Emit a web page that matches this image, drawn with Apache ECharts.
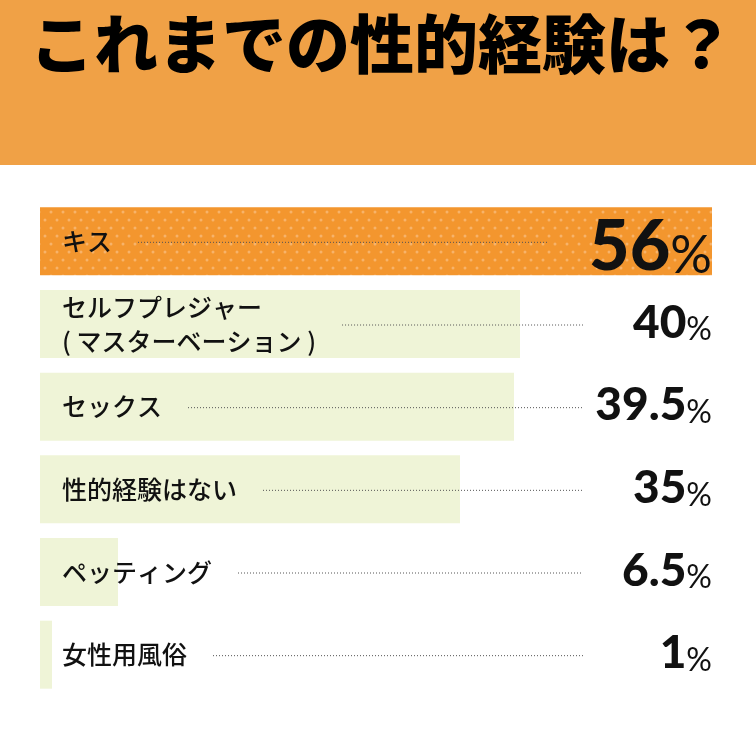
<!DOCTYPE html>
<html lang="ja">
  <head>
    <meta charset="UTF-8" />
    <title>これまでの性的経験は？</title>
    <script src="https://cdn.jsdelivr.net/npm/echarts@6.0.0/dist/echarts.min.js"></script>
    <style>
      html, body { margin: 0; padding: 0; background: #fff; }
    </style>
  </head>
  <body>
    <div id="main" style="width: 756px; height: 756px"></div>
    <script type="text/javascript">
      // data
      const categories = [
        "キス",
        "セルフプレジャー\n( マスターベーション )",
        "セックス",
        "性的経験はない",
        "ペッティング",
        "女性用風俗"
      ];
      const values = [56, 40, 39.5, 35, 6.5, 1];
      const valueLabels = ["56", "40", "39.5", "35", "6.5", "1"];

      const labelFont = '"Noto Sans CJK JP", sans-serif';
      const numFont = 'Lato, "Noto Sans", sans-serif';
      const labelSize = 25;

      // dotted texture for the top bar
      const tile = document.createElement("canvas");
      tile.width = 12;
      tile.height = 16;
      const tctx = tile.getContext("2d");
      tctx.fillStyle = "#f3962e";
      tctx.fillRect(0, 0, 12, 16);
      tctx.fillStyle = "#f7b36a";
      tctx.beginPath();
      tctx.arc(3, 4, 1.5, 0, Math.PI * 2);
      tctx.arc(9, 12, 1.5, 0, Math.PI * 2);
      tctx.fill();

      // width of a category label, for the leader lines
      const measure = document.createElement("canvas").getContext("2d");
      measure.font = "500 " + labelSize + "px " + labelFont;
      function labelWidth(txt) {
        return Math.max(...txt.split("\n").map((s) => measure.measureText(s).width));
      }

      let myChart = echarts.init(document.getElementById("main"));

      let options = {
        animation: false,
        title: {
          text: "これまでの性的経験は？",
          left: 25,
          top: 7,
          textStyle: {
            fontFamily: labelFont,
            fontSize: 64,
            fontWeight: 900,
            color: "#000"
          },
          z: 10
        },
        graphic: [
          {
            type: "rect",
            shape: { x: 0, y: 0, width: 756, height: 165 },
            style: { fill: "#f0a146" },
            z: -1
          }
        ],
        grid: { left: 40, right: 44, top: 200, bottom: 60 },
        xAxis: {
          type: "value",
          min: 0,
          max: 56,
          show: false
        },
        yAxis: [
          {
            type: "category",
            data: categories,
            inverse: true,
            z: 10,
            axisLine: { show: false },
            axisTick: { show: false },
            axisLabel: {
              inside: true,
              margin: 22,
              color: "#111",
              fontFamily: labelFont,
              fontSize: labelSize,
              fontWeight: 500,
              lineHeight: 34
            }
          },
          {
            type: "category",
            // the top value sits a little lower in its bar
            data: valueLabels.map((v, i) =>
              i === 0 ? { value: v, textStyle: { padding: [22, 0, 0, 0] } } : { value: v, textStyle: { padding: [4, 0, 0, 0] } }
            ),
            inverse: true,
            position: "right",
            z: 10,
            axisLine: { show: false },
            axisTick: { show: false },
            axisLabel: {
              inside: true,
              margin: 0,
              formatter: (v, i) => (i === 0 ? "{big|" + v + "}{bigp|%}" : "{num|" + v + "}{pct|%}"),
              rich: {
                big: { fontFamily: numFont, fontSize: 70, fontWeight: 900, color: "#111", lineHeight: 60, verticalAlign: "bottom" },
                bigp: { fontFamily: numFont, fontSize: 52, fontWeight: 400, color: "#111", lineHeight: 44, verticalAlign: "bottom" },
                num: { fontFamily: numFont, fontSize: 46, fontWeight: 900, color: "#111", lineHeight: 40, verticalAlign: "bottom" },
                pct: { fontFamily: numFont, fontSize: 32, fontWeight: 400, color: "#111", lineHeight: 30, verticalAlign: "bottom" }
              }
            }
          }
        ],
        series: [
          {
            type: "bar",
            data: values,
            barWidth: 68,
            yAxisIndex: 0,
            itemStyle: {
              color: (p) => (p.dataIndex === 0 ? { image: tile, repeat: "repeat" } : "#eff4d7")
            },
            z: 2
          },
          {
            // dotted leader lines between label and value
            type: "custom",
            yAxisIndex: 0,
            data: categories.map((c, i) => [0, i]),
            z: 5,
            renderItem: (params, api) => {
              const i = api.value(1);
              const p = api.coord([0, i]);
              const x0 = p[0] + 22 + labelWidth(categories[i]) + 26;
              const x1 = i === 0 ? 548 : 583;
              return {
                type: "line",
                shape: { x1: x0, y1: p[1] + 1, x2: x1, y2: p[1] + 1 },
                style: { stroke: "#555", lineWidth: 1, lineDash: [1, 2] }
              };
            }
          }
        ]
      };

      myChart.setOption(options);
    </script>
  </body>
</html>
